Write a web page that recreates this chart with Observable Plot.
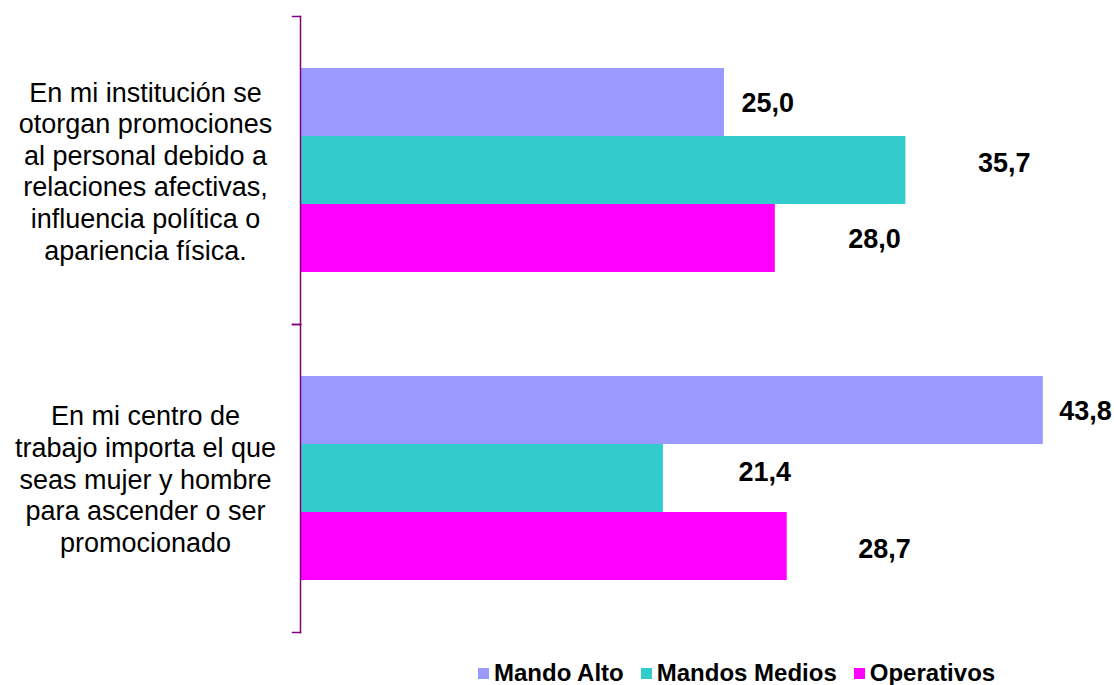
<!DOCTYPE html>
<html>
<head>
<meta charset="utf-8">
<script src="https://cdn.jsdelivr.net/npm/d3@7"></script>
<script src="https://cdn.jsdelivr.net/npm/@observablehq/plot@0.6"></script>
<style>
  html, body { margin: 0; padding: 0; background: #fff; }
  body { width: 1114px; height: 685px; overflow: hidden; font-family: "Liberation Sans", Arial, sans-serif; }
  #legend { display: flex; align-items: center; margin-left: 478px; margin-top: 15px; height: 26px; }
  .item { display: flex; align-items: center; margin-right: 17px; }
  .sw { width: 11px; height: 11px; margin-right: 5px; }
  .lab { font-weight: bold; font-size: 24px; color: #000; line-height: 26px; }
</style>
</head>
<body>
<div id="chart"></div>
<div id="legend"></div>
<script>
// ---- data ----
const categories = [
  "En mi institución se\notorgan promociones\nal personal debido a\nrelaciones afectivas,\ninfluencia política o\napariencia física.",
  "En mi centro de\ntrabajo importa el que\nseas mujer y hombre\npara ascender o ser\npromocionado"
];
const series = ["Mando Alto", "Mandos Medios", "Operativos"];
const mandoAlto    = [25.0, 43.8];
const mandosMedios = [35.7, 21.4];
const operativos   = [28.0, 28.7];

// ---- styling ----
const colors = ["#9999FF", "#33CCCC", "#FF00FF"];
const axisColor = "#800080";
// per-label nudges (pixels), in order series x category
const labelDx = [[17, 16], [72, 75], [73, 71]];
const labelDy = [[1, 1], [-7, -6], [1, 3]];

const seriesValues = [mandoAlto, mandosMedios, operativos];
const rows = [];
series.forEach((s, si) => categories.forEach((c, ci) => {
  rows.push({series: s, group: c, value: seriesValues[si][ci], dx: labelDx[si][ci], dy: labelDy[si][ci]});
}));
const fmt = v => v.toFixed(1).replace(".", ",");

const W = 1114, H = 645, ML = 300, MR = 0, MT = 15, MB = 13;
const font = "Liberation Sans, Arial, sans-serif";

const plot = Plot.plot({
  width: W, height: H,
  marginLeft: ML, marginRight: MR, marginTop: MT, marginBottom: MB,
  style: {fontFamily: font, background: "#fff"},
  x: {domain: [0, 48], axis: null},
  y: {domain: series, paddingInner: 0, paddingOuter: 0.755, axis: null},
  fy: {domain: categories, padding: 0, axis: null},
  color: {domain: series, range: colors},
  marks: [
    Plot.barX(rows, {x: "value", y: "series", fy: "group", fill: "series"}),
    ...rows.map(r => Plot.text([r], {
      x: "value", y: "series", fy: "group", text: d => fmt(d.value),
      textAnchor: "start", dx: r.dx, dy: r.dy,
      fontWeight: "bold", fontSize: 27, fill: "#000", fontFamily: font
    })),
    Plot.text(categories, {
      fy: d => d, text: d => d, frameAnchor: "left", dx: -155,
      textAnchor: "middle", lineAnchor: "middle", lineHeight: 1.17,
      fontSize: 27, fill: "#000", fontFamily: font
    }),
    Plot.frame({anchor: "left", stroke: axisColor, strokeWidth: 1.5}),
    Plot.frame({anchor: "top", stroke: axisColor, strokeWidth: 1.5, insetLeft: -8, insetRight: W - ML - MR}),
    Plot.frame({anchor: "bottom", stroke: axisColor, strokeWidth: 1.5, insetLeft: -8, insetRight: W - ML - MR})
  ]
});
document.getElementById("chart").appendChild(plot);

const legend = document.getElementById("legend");
series.forEach((s, i) => {
  const item = document.createElement("div");
  item.className = "item";
  const sw = document.createElement("span");
  sw.className = "sw";
  sw.style.background = colors[i];
  const lab = document.createElement("span");
  lab.className = "lab";
  lab.textContent = s;
  item.appendChild(sw); item.appendChild(lab);
  legend.appendChild(item);
});
</script>
</body>
</html>
